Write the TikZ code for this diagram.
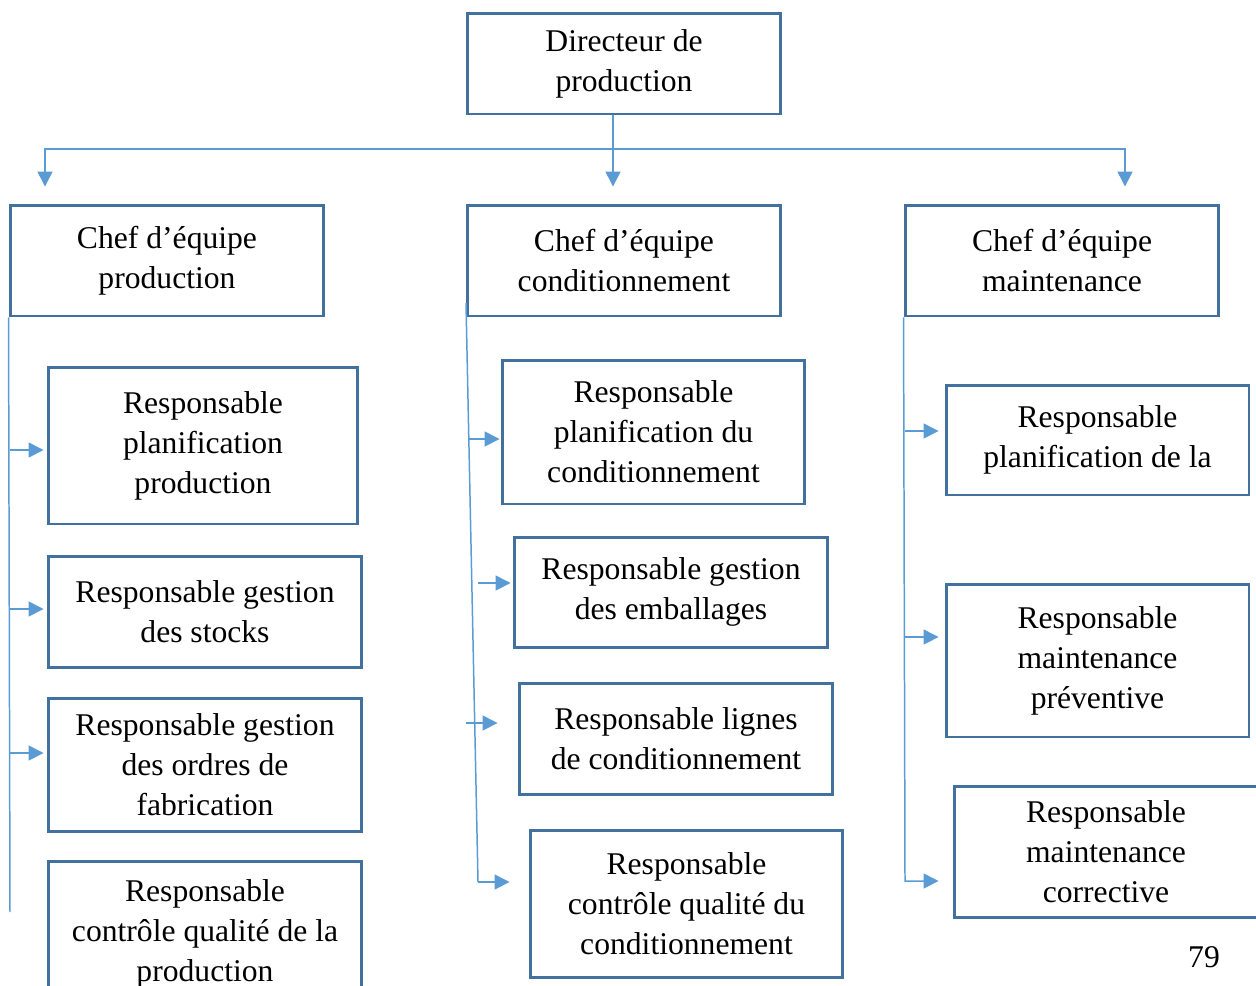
\documentclass[tikz,border=0pt]{standalone}
\usepackage{fontspec}
\setmainfont{Liberation Serif}
\usetikzlibrary{arrows.meta}
\definecolor{boxblue}{HTML}{41719C}
\definecolor{linkblue}{HTML}{5B9BD5}
\newcommand\boxfont{\fontsize{18}{22.7}\selectfont}
\begin{document}
\begin{tikzpicture}[x=0.02cm, y=-0.02cm,
    box/.style={draw=boxblue, line width=1.7pt, align=center, inner sep=0pt, font=\boxfont},
    spine/.style={draw=linkblue, line width=0.85pt},
    link/.style={spine, -{Triangle[length=0.3cm,width=0.3cm]}}]
      % page frame, cuts the boxes at the edges
      \useasboundingbox (0,0) rectangle (1256,985);
      \clip (0,0) rectangle (1256,985);

      \node[box, minimum width=6.28cm, minimum height=2.02cm] (dir) at (624,63.5) {Directeur de\\production};

      \node[box, minimum width=6.28cm, minimum height=2.22cm] (chefP) at (167,260.5) {Chef d’équipe\\production};
      \node[box, minimum width=6.28cm, minimum height=2.22cm] (chefC) at (624,260.5) {Chef d’équipe\\conditionnement};
      \node[box, minimum width=6.28cm, minimum height=2.22cm] (chefM) at (1062,260.5) {Chef d’équipe\\maintenance};

      % production
      \node[box, minimum width=6.2cm, minimum height=3.14cm] (rP1) at (203,445.5) {Responsable\\planification\\production};
      \node[box, minimum width=6.28cm, minimum height=2.22cm] (rP2) at (205,611.5) {Responsable gestion\\des stocks};
      \node[box, minimum width=6.28cm, minimum height=2.66cm] (rP3) at (205,764.5) {Responsable gestion\\des ordres de\\fabrication};
      \node[box, minimum width=6.28cm, minimum height=2.92cm] (rP4) at (205,934) {Responsable\\contrôle qualité de la\\production};

      % conditionnement
      \node[box, minimum width=6.06cm, minimum height=2.88cm] (rC1) at (653.5,432) {Responsable\\planification du\\conditionnement};
      \node[box, minimum width=6.28cm, minimum height=2.2cm] (rC2) at (671,592) {Responsable gestion\\des emballages};
      \node[box, minimum width=6.28cm, minimum height=2.22cm] (rC3) at (676,738.5) {Responsable lignes\\de conditionnement};
      \node[box, minimum width=6.26cm, minimum height=2.94cm] (rC4) at (686.5,903.5) {Responsable\\contrôle qualité du\\conditionnement};

      % maintenance
      \node[box, minimum width=6.06cm, minimum height=2.2cm] (rM1) at (1097.5,440) {Responsable\\planification de la};
      \node[box, minimum width=6.06cm, minimum height=3.06cm] (rM2) at (1097.5,660.5) {Responsable\\maintenance\\préventive};
      \node[box, minimum width=6.08cm, minimum height=2.62cm] (rM3) at (1106,851.5) {Responsable\\maintenance\\corrective};

      \node[font=\boxfont] (page) at (1204,957) {79};

      % directeur -> chefs
      \coordinate (bar) at (613,149);
      \coordinate (dropP) at (45,149);
      \coordinate (dropM) at (1125,149);
      \draw[link, shorten >=0.34cm] (dir.south -| bar) -- (chefC.north -| bar);
      \draw[link, shorten >=0.34cm] (bar) -- (dropP) -- (chefP.north -| dropP);
      \draw[link, shorten >=0.34cm] (bar) -- (dropM) -- (chefM.north -| dropM);

      % production
      \coordinate (endP) at (10,912);
      \draw[spine] (chefP.south west) -- (endP);
      \foreach \b/\y in {rP1/450, rP2/609, rP3/753} {
        \coordinate (s) at (10,\y);
        \draw[link, shorten >=0.06cm] (s) -- (\b.west |- s);
      }

      % conditionnement
      \coordinate (topC) at (466,303);
      \coordinate (endC) at (478,882);
      \draw[spine] (topC) -- (endC);
      \coordinate (sC1) at (469,439);
      \coordinate (sC2) at (478,583);
      \coordinate (sC3) at (466,723);
      \draw[link, shorten >=0.02cm] (sC1) -- (rC1.west |- sC1);
      \draw[link, shorten >=0.04cm] (sC2) -- (rC2.west |- sC2);
      \draw[link, shorten >=0.4cm] (sC3) -- (rC3.west |- sC3);
      \draw[link, shorten >=0.38cm] (endC) -- (rC4.west |- endC);

      % maintenance
      \coordinate (endM) at (905,881);
      \coordinate (sM1) at (905,431);
      \coordinate (sM2) at (905,637);
      \draw[link, shorten >=0.28cm] (chefM.south west) -- (endM) -- (rM3.west |- endM);
      \draw[link, shorten >=0.12cm] (sM1) -- (rM1.west |- sM1);
      \draw[link, shorten >=0.12cm] (sM2) -- (rM2.west |- sM2);
\end{tikzpicture}
\end{document}
